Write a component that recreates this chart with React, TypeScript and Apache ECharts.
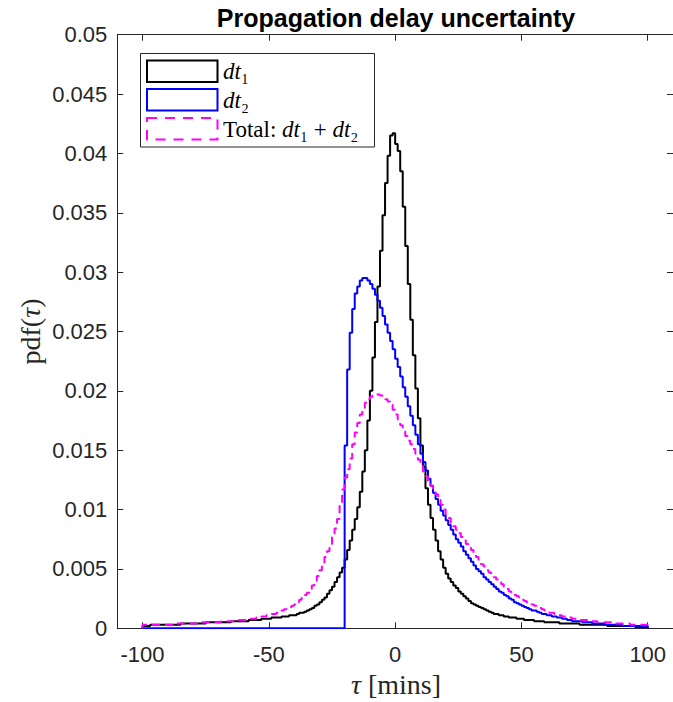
import React, { useEffect, useRef } from "react";
import * as echarts from "echarts";

// Histogram bins: first edge and width (mins)
const BIN_START = -100;
const BIN_WIDTH = 1;
const X_TICKS = [-100, -50, 0, 50, 100];

const TITLE = "Propagation delay uncertainty";

// dt1 pdf per bin (bins -100..100, width 1)
const DT1 = [
  0.0002, 0.0002, 0.0002, 0.0003, 0.0003, 0.0003, 0.0003, 0.0003, 0.0003, 0.0003,
  0.0003, 0.0003, 0.0003, 0.0003, 0.0003, 0.0004, 0.0004, 0.0004, 0.0004, 0.0004,
  0.0004, 0.0004, 0.0004, 0.0004, 0.0004, 0.0005, 0.0005, 0.0005, 0.0005, 0.0005,
  0.0005, 0.0005, 0.0005, 0.0005, 0.0005, 0.0006, 0.0006, 0.0006, 0.0006, 0.0006,
  0.0006, 0.0006, 0.0007, 0.0007, 0.0007, 0.0007, 0.0007, 0.0008, 0.0008, 0.0008,
  0.0008, 0.0009, 0.0009, 0.0009, 0.0009, 0.001, 0.001, 0.001, 0.0011, 0.0011,
  0.0011, 0.0012, 0.0013, 0.0013, 0.0014, 0.0015, 0.0016, 0.0017, 0.0019, 0.002,
  0.0022, 0.0024, 0.0026, 0.0029, 0.0032, 0.0035, 0.0039, 0.0043, 0.0047, 0.0051,
  0.0058, 0.0066, 0.0074, 0.0083, 0.0092, 0.0102, 0.0115, 0.0132, 0.015, 0.0175,
  0.02, 0.0228, 0.0258, 0.0288, 0.0318, 0.0348, 0.0375, 0.0398, 0.0415, 0.0417,
  0.0408, 0.0402, 0.0385, 0.0355, 0.0322, 0.029, 0.026, 0.023, 0.0202, 0.0177,
  0.0154, 0.0136, 0.0118, 0.0104, 0.0093, 0.0083, 0.0074, 0.0065, 0.0058, 0.0051,
  0.0046, 0.0042, 0.0039, 0.0036, 0.0034, 0.0031, 0.0029, 0.0027, 0.0025, 0.0023,
  0.0021, 0.002, 0.0019, 0.0018, 0.0017, 0.0016, 0.0015, 0.0014, 0.0013, 0.0012,
  0.0012, 0.0011, 0.0011, 0.001, 0.001, 0.0009, 0.0009, 0.0009, 0.0008, 0.0008,
  0.0008, 0.0007, 0.0007, 0.0007, 0.0007, 0.0006, 0.0006, 0.0006, 0.0006, 0.0005,
  0.0005, 0.0005, 0.0005, 0.0005, 0.0005, 0.0004, 0.0004, 0.0004, 0.0004, 0.0004,
  0.0004, 0.0004, 0.0004, 0.0003, 0.0003, 0.0003, 0.0003, 0.0003, 0.0003, 0.0003,
  0.0003, 0.0003, 0.0003, 0.0003, 0.0002, 0.0002, 0.0002, 0.0002, 0.0002, 0.0002,
  0.0002, 0.0002, 0.0002, 0.0002, 0.0002, 0.0001, 0.0001, 0.0001, 0.0001, 0.0001,
];

// dt2 pdf per bin
const DT2 = [
  0, 0, 0, 0, 0, 0, 0, 0, 0, 0,
  0, 0, 0, 0, 0, 0, 0, 0, 0, 0,
  0, 0, 0, 0, 0, 0, 0, 0, 0, 0,
  0, 0, 0, 0, 0, 0, 0, 0, 0, 0,
  0, 0, 0, 0, 0, 0, 0, 0, 0, 0,
  0, 0, 0, 0, 0, 0, 0, 0, 0, 0,
  0, 0, 0, 0, 0, 0, 0, 0, 0, 0,
  0, 0, 0, 0, 0, 0, 0, 0, 0, 0,
  0.0154, 0.0218, 0.0249, 0.0269, 0.0282, 0.0288, 0.0293, 0.0295, 0.0295, 0.0293,
  0.029, 0.0286, 0.0281, 0.0276, 0.027, 0.0263, 0.0256, 0.0249, 0.0242, 0.0235,
  0.0227, 0.022, 0.0212, 0.0203, 0.0195, 0.0187, 0.0179, 0.0171, 0.0163, 0.0155,
  0.0147, 0.014, 0.0133, 0.0126, 0.012, 0.0114, 0.0109, 0.0104, 0.0099, 0.0095,
  0.0091, 0.0087, 0.0083, 0.0079, 0.0075, 0.0072, 0.0069, 0.0065, 0.0062, 0.0059,
  0.0056, 0.0053, 0.005, 0.0048, 0.0046, 0.0043, 0.0041, 0.0039, 0.0037, 0.0035,
  0.0033, 0.0031, 0.003, 0.0028, 0.0027, 0.0025, 0.0024, 0.0022, 0.0021, 0.002,
  0.0019, 0.0018, 0.0017, 0.0016, 0.0015, 0.0015, 0.0014, 0.0013, 0.0012, 0.0012,
  0.0011, 0.0011, 0.001, 0.001, 0.0009, 0.0009, 0.0008, 0.0008, 0.0007, 0.0007,
  0.0006, 0.0006, 0.0006, 0.0006, 0.0005, 0.0005, 0.0005, 0.0005, 0.0004, 0.0004,
  0.0004, 0.0004, 0.0004, 0.0003, 0.0003, 0.0003, 0.0003, 0.0003, 0.0003, 0.0003,
  0.0002, 0.0002, 0.0002, 0.0002, 0.0002, 0.0002, 0.0002, 0.0002, 0.0002, 0.0002,
];

// Total dt1 + dt2 pdf per bin
const TOTAL = [
  0.0003, 0.0003, 0.0003, 0.0003, 0.0003, 0.0003, 0.0003, 0.0003, 0.0003, 0.0003,
  0.0003, 0.0003, 0.0004, 0.0004, 0.0004, 0.0004, 0.0004, 0.0004, 0.0004, 0.0004,
  0.0004, 0.0004, 0.0005, 0.0005, 0.0005, 0.0005, 0.0005, 0.0005, 0.0005, 0.0005,
  0.0005, 0.0006, 0.0006, 0.0006, 0.0006, 0.0006, 0.0006, 0.0007, 0.0007, 0.0007,
  0.0007, 0.0007, 0.0008, 0.0008, 0.0008, 0.0009, 0.0009, 0.001, 0.001, 0.0011,
  0.0011, 0.0012, 0.0012, 0.0013, 0.0014, 0.0015, 0.0016, 0.0017, 0.0018, 0.0019,
  0.002, 0.0022, 0.0024, 0.0026, 0.0028, 0.003, 0.0033, 0.0036, 0.004, 0.0044,
  0.0049, 0.0054, 0.006, 0.0065, 0.0071, 0.0077, 0.0084, 0.0092, 0.0104, 0.0117,
  0.0127, 0.0134, 0.0143, 0.0155, 0.0165, 0.0173, 0.018, 0.0185, 0.019, 0.0193,
  0.0195, 0.0196, 0.0197, 0.0197, 0.0196, 0.0195, 0.0193, 0.0191, 0.0188, 0.0184,
  0.018, 0.0176, 0.0171, 0.0166, 0.0162, 0.0158, 0.0155, 0.0151, 0.0147, 0.0142,
  0.0137, 0.0132, 0.0128, 0.0124, 0.012, 0.0117, 0.0113, 0.0108, 0.0104, 0.01,
  0.0096, 0.0093, 0.0089, 0.0086, 0.0083, 0.008, 0.0077, 0.0074, 0.0071, 0.0068,
  0.0066, 0.0063, 0.006, 0.0057, 0.0054, 0.0052, 0.0049, 0.0047, 0.0045, 0.0043,
  0.0041, 0.0039, 0.0037, 0.0035, 0.0033, 0.0031, 0.003, 0.0028, 0.0027, 0.0026,
  0.0024, 0.0023, 0.0022, 0.0021, 0.002, 0.0019, 0.0018, 0.0017, 0.0016, 0.0015,
  0.0014, 0.0013, 0.0013, 0.0012, 0.0011, 0.0011, 0.001, 0.001, 0.0009, 0.0009,
  0.0008, 0.0008, 0.0008, 0.0007, 0.0007, 0.0007, 0.0006, 0.0006, 0.0006, 0.0006,
  0.0005, 0.0005, 0.0005, 0.0005, 0.0005, 0.0005, 0.0004, 0.0004, 0.0004, 0.0004,
  0.0004, 0.0004, 0.0004, 0.0003, 0.0003, 0.0003, 0.0003, 0.0003, 0.0003, 0.0003,
];

function stairs(vals: number[]): number[][] {
  const pts: number[][] = [[BIN_START, 0]];
  vals.forEach((v, i) => pts.push([BIN_START + i * BIN_WIDTH, v]));
  const end = BIN_START + vals.length * BIN_WIDTH;
  pts.push([end, vals[vals.length - 1]]);
  pts.push([end, 0]);
  return pts;
}

const SANS = "'Liberation Sans', Arial, Helvetica, sans-serif";
const SERIF = "'Liberation Serif', 'DejaVu Serif', serif";
const AXIS_COLOR = "#262626";

export default function App() {
  const ref = useRef<HTMLDivElement>(null);

  useEffect(() => {
    if (!ref.current) return;
    const chart = echarts.init(ref.current, null, { renderer: "svg" });

    const xBase = {
      type: "value",
      min: -110,
      max: 110,
      splitLine: { show: false },
      axisLine: { show: true, onZero: false, lineStyle: { color: AXIS_COLOR, width: 1 } },
      axisTick: { show: true, inside: true, length: 6, customValues: X_TICKS, lineStyle: { color: AXIS_COLOR, width: 1 } },
    };
    const yBase = {
      type: "value",
      min: 0,
      max: 0.05,
      interval: 0.005,
      splitLine: { show: false },
      axisLine: { show: true, onZero: false, lineStyle: { color: AXIS_COLOR, width: 1 } },
      axisTick: { show: true, inside: true, length: 6, lineStyle: { color: AXIS_COLOR, width: 1 } },
    };

    const rich = {
      r: { fontFamily: SERIF, fontSize: 23, fill: "#000" },
      i: { fontFamily: SERIF, fontSize: 23, fontStyle: "italic", fill: "#000" },
    };
    const richBig = {
      r: { fontFamily: SERIF, fontSize: 28, fill: "#262626" },
      i: { fontFamily: SERIF, fontSize: 28, fontStyle: "italic", fill: "#262626" },
    };

    const legendItems = [
      { text: "{i|dt}{r|₁}", color: "#000000", dashed: false, y: 60.5 },
      { text: "{i|dt}{r|₂}", color: "#0000ff", dashed: false, y: 89 },
      { text: "{r|Total:\u00a0}{i|dt}{r|₁\u00a0+\u00a0}{i|dt}{r|₂}", color: "#ff00ff", dashed: true, y: 118 },
    ];

    const graphic: any[] = [
      {
        type: "text",
        x: 396,
        y: 17.5,
        z: 100,
        style: { text: TITLE, font: `bold 25px ${SANS}`, fill: "#000", align: "center", verticalAlign: "middle" },
      },
      {
        type: "text",
        x: 396,
        y: 684,
        z: 100,
        style: { text: "{i|τ}{r|\u00a0[mins]}", rich: richBig, align: "center", verticalAlign: "middle" },
      },
      {
        type: "text",
        x: 30,
        y: 331.5,
        rotation: Math.PI / 2,
        z: 100,
        style: { text: "{r|pdf(}{i|τ}{r|)}", rich: richBig, align: "center", verticalAlign: "middle" },
      },
      {
        type: "rect",
        z: 100,
        shape: { x: 140.5, y: 53.5, width: 234, height: 93.5 },
        style: { fill: "#fff", stroke: AXIS_COLOR, lineWidth: 1 },
      },
    ];
    legendItems.forEach((it) => {
      graphic.push({
        type: "rect",
        z: 101,
        shape: { x: 147, y: it.y, width: 70.5, height: 21.5 },
        style: { fill: "none", stroke: it.color, lineWidth: 2, lineDash: it.dashed ? [10, 8] : null },
      });
      graphic.push({
        type: "text",
        z: 101,
        x: 223,
        y: it.y + 11,
        style: { text: it.text, rich, align: "left", verticalAlign: "middle" },
      });
    });

    const lineSeries = (name: string, vals: number[], color: string, dash: any) => ({
      name,
      type: "line",
      step: "end",
      data: stairs(vals),
      showSymbol: false,
      symbol: "none",
      silent: true,
      clip: true,
      lineStyle: { color, width: 2, type: dash },
      itemStyle: { color },
    });

    chart.setOption({
      animation: false,
      backgroundColor: "#ffffff",
      grid: { left: 117.3, top: 34.7, width: 557.4, height: 593.6, containLabel: false },
      xAxis: [
        {
          ...xBase,
          position: "bottom",
          axisLabel: {
            show: true,
            customValues: X_TICKS,
            margin: 15,
            fontSize: 22,
            fontFamily: SANS,
            color: AXIS_COLOR,
          },
        },
        { ...xBase, position: "top", axisLabel: { show: false } },
      ],
      yAxis: [
        {
          ...yBase,
          position: "left",
          axisLabel: {
            show: true,
            margin: 10,
            fontSize: 22,
            fontFamily: SANS,
            color: AXIS_COLOR,
            formatter: (v: number) => String(parseFloat(v.toFixed(4))),
          },
        },
        { ...yBase, position: "right", axisLabel: { show: false } },
      ],
      series: [
        lineSeries("dt1", DT1, "#000000", "solid"),
        lineSeries("dt2", DT2, "#0000ff", "solid"),
        lineSeries("Total", TOTAL, "#ff00ff", [8, 5]),
      ],
      graphic,
    });

    return () => chart.dispose();
  }, []);

  return (
    <div
      ref={ref}
      style={{ position: "absolute", left: 0, top: 0, width: 673, height: 702, background: "#fff" }}
    />
  );
}
